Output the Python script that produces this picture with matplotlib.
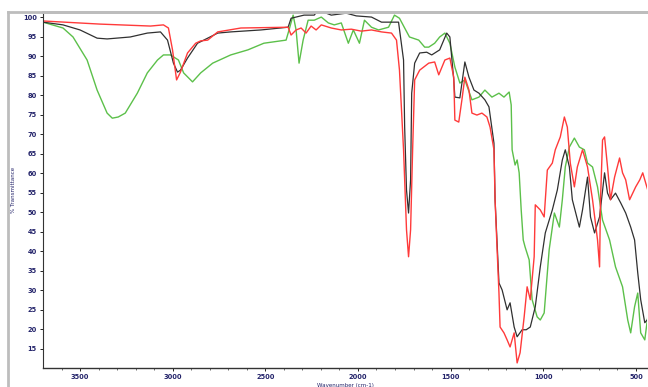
import matplotlib
matplotlib.use("Agg")
import matplotlib.pyplot as plt
from matplotlib.lines import Line2D

# ---- data (wavenumber cm-1, % transmittance) ----
red_wn = [3700, 3392, 3120, 3050, 3023, 3001, 2979, 2958, 2920, 2876, 2849, 2811, 2757, 2632,
          2377, 2361, 2334, 2307, 2280, 2253, 2226, 2198, 2144, 2090, 2036, 1982, 1927, 1873,
          1819, 1792, 1776, 1754, 1738, 1727, 1716, 1705, 1694, 1667, 1618, 1586, 1564, 1531,
          1504, 1483, 1477, 1456, 1439, 1423, 1401, 1385, 1358, 1331, 1304, 1287, 1266, 1260,
          1249, 1239, 1233, 1212, 1195, 1179, 1157, 1141, 1125, 1103, 1087, 1070, 1049, 1043,
          1016, 995, 978, 951, 935, 908, 886, 870, 854, 832, 816, 788, 761, 734, 707, 696, 691,
          680, 669, 653, 637, 615, 588, 572, 555, 534, 517, 501, 479, 463, 436]
red_t = [99.0, 98.2, 97.7, 98.0, 97.2, 91.6, 83.9, 85.9, 90.8, 93.3, 93.9, 94.1, 96.2, 97.2,
         97.4, 95.4, 96.7, 97.2, 95.9, 97.7, 96.7, 98.0, 97.2, 96.7, 96.9, 96.4, 96.7, 96.2,
         95.9, 94.1, 86.4, 66.0, 45.5, 38.6, 45.5, 66.0, 83.9, 86.4, 88.2, 88.5, 85.2, 89.0,
         89.5, 84.6, 73.6, 73.1, 78.8, 84.6, 81.3, 75.4, 74.9, 75.4, 74.4, 71.8, 66.0, 53.2,
         40.4, 29.3, 20.6, 19.1, 17.3, 15.5, 19.1, 11.4, 14.0, 23.2, 30.9, 27.6, 38.6, 51.9,
         50.6, 48.8, 60.8, 62.6, 66.0, 69.3, 74.4, 71.8, 62.6, 56.5, 61.6, 66.0, 61.6, 53.2,
         42.9, 36.0, 53.2, 68.5, 69.3, 61.6, 53.2, 59.0, 63.9, 60.1, 58.3, 53.2, 54.9, 56.5,
         58.3, 60.1, 55.7]

black_wn = [3700, 3592, 3500, 3408, 3354, 3229, 3137, 3066, 3028, 2996, 2974, 2958, 2920, 2866,
            2811, 2757, 2687, 2524, 2377, 2361, 2291, 2236, 2215, 2144, 2063, 2009, 1927, 1873,
            1781, 1754, 1748, 1738, 1727, 1716, 1710, 1694, 1667, 1629, 1602, 1559, 1521, 1504,
            1483, 1477, 1450, 1423, 1401, 1374, 1347, 1315, 1293, 1266, 1260, 1239, 1222, 1195,
            1179, 1157, 1141, 1114, 1092, 1070, 1043, 1016, 989, 951, 924, 897, 881, 859, 843,
            805, 788, 761, 745, 723, 696, 669, 653, 637, 610, 582, 555, 528, 507, 490, 474, 452,
            425]
black_t = [98.7, 98.0, 96.7, 94.6, 94.4, 94.9, 95.9, 96.2, 94.1, 88.2, 85.9, 86.4, 89.5, 93.3,
           94.6, 95.9, 96.2, 96.7, 97.4, 99.7, 100.5, 100.5, 101.8, 100.5, 101.0, 100.3, 100.0,
           98.7, 98.7, 89.0, 71.8, 55.7, 49.8, 58.3, 80.5, 88.2, 90.8, 91.0, 90.3, 91.6, 95.9,
           94.9, 83.9, 79.5, 79.3, 88.5, 84.6, 81.3, 80.5, 78.8, 77.0, 67.7, 53.2, 31.9, 30.1,
           25.0, 26.8, 20.6, 18.1, 19.9, 19.9, 20.6, 25.8, 36.0, 44.7, 50.6, 55.7, 63.4, 66.0,
           61.6, 53.2, 46.2, 50.6, 59.0, 48.8, 44.7, 48.8, 60.1, 54.9, 53.2, 54.9, 52.4, 49.8,
           46.2, 42.9, 34.5, 27.6, 21.7, 23.2]

green_wn = [3700, 3592, 3538, 3462, 3408, 3354, 3326, 3294, 3256, 3191, 3137, 3082, 3050, 3012,
            2969, 2941, 2893, 2849, 2784, 2687, 2594, 2508, 2388, 2372, 2350, 2334, 2318, 2296,
            2269, 2236, 2198, 2160, 2128, 2090, 2052, 2025, 1992, 1965, 1927, 1889, 1835, 1803,
            1776, 1748, 1722, 1672, 1640, 1618, 1586, 1559, 1531, 1504, 1477, 1450, 1423, 1385,
            1347, 1315, 1277, 1239, 1212, 1184, 1173, 1168, 1152, 1141, 1130, 1119, 1108, 1098,
            1076, 1060, 1033, 1016, 995, 968, 940, 913, 897, 881, 859, 832, 805, 778, 761, 734,
            707, 680, 642, 610, 572, 544, 528, 507, 490, 474, 452, 436]
green_t = [98.7, 97.2, 94.9, 89.0, 81.3, 75.4, 74.1, 74.4, 75.4, 80.5, 85.7, 89.0, 90.3, 90.3,
           89.0, 85.7, 83.4, 85.7, 88.2, 90.3, 91.6, 93.3, 94.1, 96.7, 100.5, 96.7, 88.2, 94.1,
           99.2, 99.2, 100.0, 98.5, 98.0, 98.5, 93.3, 96.7, 93.3, 99.2, 97.4, 96.7, 97.4, 100.5,
           99.7, 97.2, 94.9, 94.1, 92.3, 92.3, 93.3, 94.9, 95.9, 93.3, 87.2, 83.1, 83.9, 78.8,
           79.5, 81.3, 79.5, 80.5, 79.5, 80.8, 77.5, 66.0, 62.1, 63.4, 60.1, 50.6, 42.9, 41.1,
           37.8, 27.6, 23.2, 22.4, 24.2, 40.4, 49.8, 46.2, 53.2, 61.6, 66.7, 69.0, 66.7, 66.0,
           62.6, 61.6, 56.5, 48.0, 42.9, 36.0, 30.9, 22.4, 19.1, 25.8, 29.3, 19.1, 17.3, 23.2]

y_ticks = [15, 20, 25, 30, 35, 40, 45, 50, 55, 60, 65, 70, 75, 80, 85, 90, 95, 100]
x_ticks = [3500, 3000, 2500, 2000, 1500, 1000, 500]

# ---- figure ----
fig = plt.figure(figsize=(6.48, 3.87), dpi=100)
ax = fig.add_axes([43 / 648, 1 - 368 / 387, (647 - 43) / 648, (368 - 12) / 387])

ax.plot(green_wn, green_t, color="#5cc04a", lw=1.0)
ax.plot(black_wn, black_t, color="#303030", lw=0.9)
ax.plot(red_wn, red_t, color="#ff3a3a", lw=1.0)

ax.set_xlim(3700, 440)
ax.set_ylim(10.1, 101.3)

ax.set_yticks(y_ticks)
ax.set_yticklabels([str(v) for v in y_ticks])
ax.set_xticks(x_ticks)
ax.set_xticklabels([str(v) for v in x_ticks])
ax.set_xticks(range(3600, 400, -100), minor=True)

tick_col = "#23236a"
ax.tick_params(axis="both", which="major", labelsize=4.8, labelcolor=tick_col,
               length=2.5, width=0.6, direction="out", pad=2)
ax.tick_params(axis="both", which="minor", length=1.5, width=0.4)
for lab in ax.get_xticklabels() + ax.get_yticklabels():
    lab.set_fontweight("bold")

ax.spines["right"].set_visible(False)
ax.spines["top"].set_color("#b5b5b5")
ax.spines["top"].set_linewidth(2.0)
ax.spines["left"].set_color("#333333")
ax.spines["bottom"].set_color("#333333")
ax.spines["left"].set_linewidth(0.8)
ax.spines["bottom"].set_linewidth(1.0)

ax.set_ylabel("% Transmittance", fontsize=4, color=tick_col, labelpad=5)
ax.set_xlabel("Wavenumber (cm-1)", fontsize=4, color=tick_col, labelpad=2)

# window frame (left and top gray border)
fig.add_artist(Line2D([8 / 648, 8 / 648], [0, 1 - 12 / 387], color="#bdbdbd", lw=2.0))
fig.add_artist(Line2D([8 / 648, 1], [1 - 12 / 387, 1 - 12 / 387], color="#bdbdbd", lw=2.0))

fig.savefig("out.png", dpi=100)
